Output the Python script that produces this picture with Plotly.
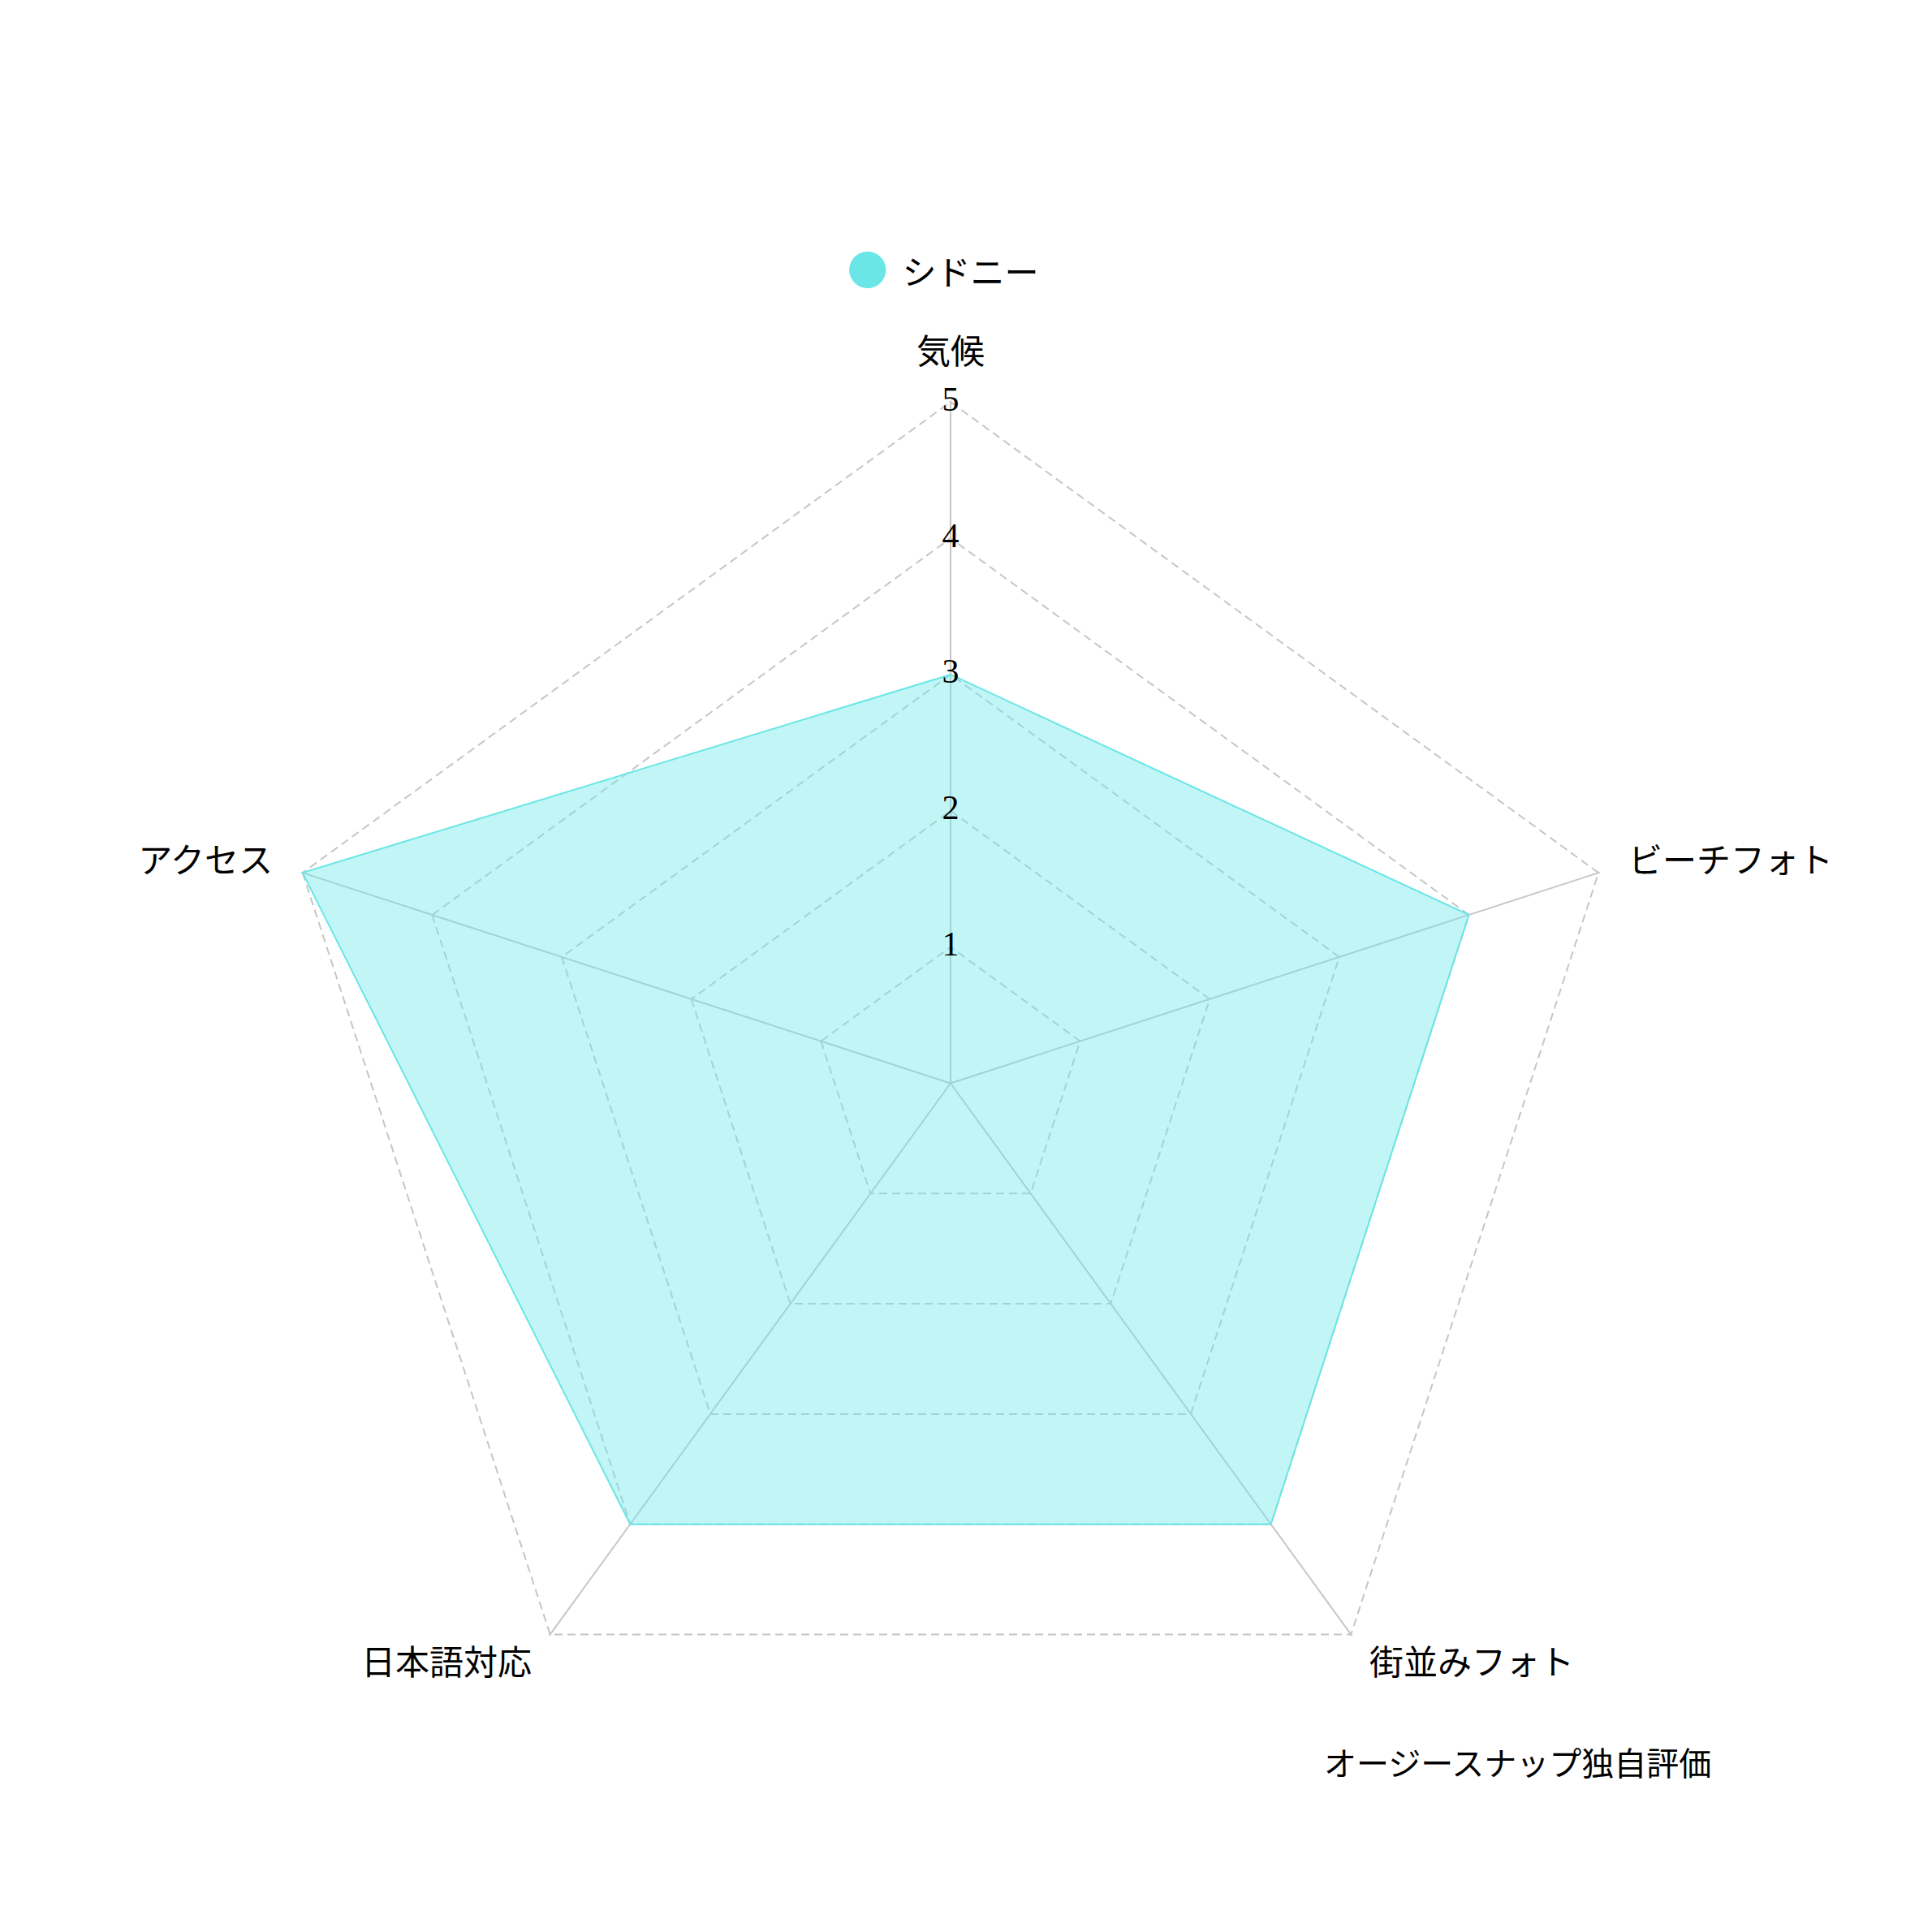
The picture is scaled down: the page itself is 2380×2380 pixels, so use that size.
import plotly.graph_objects as go

categories = ['気候', 'ビーチフォト', '街並みフォト', '日本語対応', 'アクセス']
scores = [3, 4, 4, 4, 5]
radial_ticks = [0, 1, 2, 3, 4, 5]
series_name = 'シドニー'
note = 'オージースナップ独自評価'

line_color = '#6ae6e6'
fill_color = 'rgba(110, 230, 230, 0.42)'
grid_color = '#c6c6c6'
jp_font = 'Noto Sans CJK JP'

# the two bottom labels sit a bit closer to the chart in the original
lifted = {'街並みフォト', '日本語対応'}
tick_text = ['<span style="baseline-shift:24px">%s</span>' % c if c in lifted else c
             for c in categories]

fig = go.Figure()

# score polygon
fig.add_trace(go.Scatterpolar(
    r=scores + scores[:1],
    theta=categories + categories[:1],
    mode='lines',
    fill='toself',
    fillcolor=fill_color,
    line=dict(color=line_color, width=2),
    showlegend=False,
    hoverinfo='r+theta',
))

# legend entry only (big dot drawn as a glyph, plotly caps legend markers at 16px)
fig.add_trace(go.Scatterpolar(
    r=[None],
    theta=[categories[0]],
    mode='markers',
    marker=dict(color='rgba(0,0,0,0)', size=2),
    name='<span style="color:%s;font-size:50px">●</span>\u2009 %s' % (line_color, series_name),
    showlegend=True,
    hoverinfo='skip',
))

# radial tick labels sit centred on the top spoke
fig.add_trace(go.Scatterpolar(
    r=radial_ticks,
    theta=[categories[0]] * len(radial_ticks),
    mode='text',
    text=[str(t) for t in radial_ticks],
    textposition='middle center',
    textfont=dict(family='Liberation Serif', size=42, color='black'),
    showlegend=False,
    hoverinfo='skip',
))

fig.update_layout(
    width=2380,
    height=2380,
    paper_bgcolor='white',
    margin=dict(l=0, r=0, t=0, b=0),
    font=dict(family=jp_font, size=42, color='black'),
    polar=dict(
        domain=dict(x=[0.1353, 0.8420], y=[0.0893, 0.7960]),
        bgcolor='white',
        gridshape='linear',
        radialaxis=dict(
            range=[0, 5.01],
            tickvals=radial_ticks,
            showticklabels=False,
            ticks='',
            showline=False,
            gridcolor=grid_color,
            gridwidth=1.5,
            griddash='10px,6px',
            angle=90,
        ),
        angularaxis=dict(
            rotation=90,
            direction='clockwise',
            showline=False,
            tickmode='array',
            tickvals=categories,
            ticktext=tick_text,
            ticks='outside',
            ticklen=28,
            tickcolor='rgba(0,0,0,0)',
            gridcolor=grid_color,
            gridwidth=1.5,
            tickfont=dict(family=jp_font, size=42, color='black'),
        ),
    ),
    legend=dict(
        orientation='h',
        x=0.4774,
        xanchor='center',
        y=0.8626,
        yanchor='middle',
        font=dict(family=jp_font, size=42, color='black'),
        itemwidth=30,
    ),
    annotations=[dict(
        text=note,
        x=0.681,
        y=0.0916,
        xref='paper',
        yref='paper',
        xanchor='left',
        yanchor='middle',
        showarrow=False,
        font=dict(family=jp_font, size=40, color='black'),
    )],
)

fig.write_html("out.html")
